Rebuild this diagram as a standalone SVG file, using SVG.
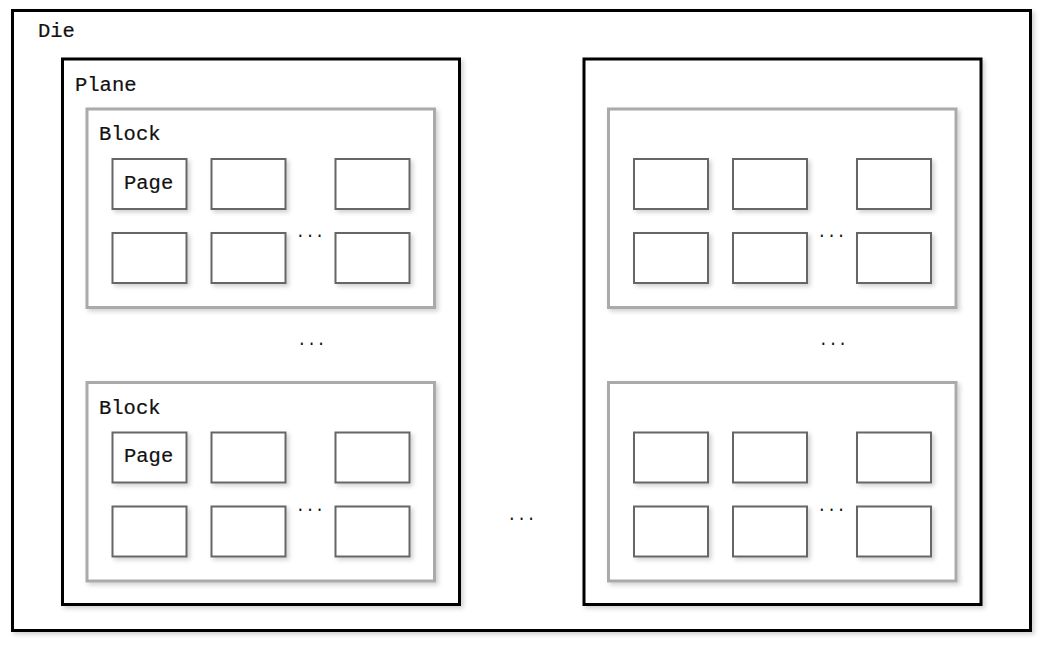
<svg xmlns="http://www.w3.org/2000/svg" xmlns:xlink="http://www.w3.org/1999/xlink" width="1052" height="654" viewBox="0 0 1052 654">
<defs>
<filter id="sh" x="-10%" y="-10%" width="130%" height="130%">
<feDropShadow dx="2.5" dy="2.5" stdDeviation="2" flood-color="#000" flood-opacity="0.18"/>
</filter>
<g id="blockPages">
<rect class="page" x="112.5" y="159" width="74" height="50"/>
<rect class="page" x="211.5" y="159" width="74" height="50"/>
<rect class="page" x="335.5" y="159" width="74" height="50"/>
<rect class="page" x="112.5" y="233" width="74" height="50"/>
<rect class="page" x="211.5" y="233" width="74" height="50"/>
<rect class="page" x="335.5" y="233" width="74" height="50"/>
<text class="dots" x="310" y="237">...</text>
</g>
</defs>
<style>
.die{fill:#fff;stroke:#000;stroke-width:3;filter:url(#sh)}
.plane{fill:#fff;stroke:#000;stroke-width:3;filter:url(#sh)}
.block{fill:#fff;stroke:#aaa;stroke-width:3;filter:url(#sh)}
.page{fill:#fff;stroke:#666;stroke-width:2;filter:url(#sh)}
.lbl{font-family:"Liberation Mono",monospace;font-size:20.5px;fill:#111;stroke:#111;stroke-width:0.2}
.dots{font-family:"Liberation Mono",monospace;font-size:16px;fill:#111;text-anchor:middle}
</style>
<g id="die">
<rect class="die" x="12.5" y="10.5" width="1018" height="620"/>
<text class="lbl" x="38" y="37">Die</text>
</g>
<g id="plane1">
<rect class="plane" x="62.5" y="59" width="397" height="545.5"/>
<text class="lbl" x="75" y="91">Plane</text>
</g>
<g id="plane2">
<rect class="plane" x="584" y="59" width="397" height="545.5"/>
</g>
<g id="block1">
<rect class="block" x="87" y="109" width="347.5" height="198.5"/>
<text class="lbl" x="99" y="140">Block</text>
<use xlink:href="#blockPages"/>
<text class="lbl" x="124" y="189">Page</text>
</g>
<g id="block2">
<rect class="block" x="87" y="382.5" width="347.5" height="198.5"/>
<text class="lbl" x="99" y="414">Block</text>
<use xlink:href="#blockPages" transform="translate(0,273.5)"/>
<text class="lbl" x="124" y="462">Page</text>
</g>
<g id="block3">
<rect class="block" x="608.5" y="109" width="347.5" height="198.5"/>
<use xlink:href="#blockPages" transform="translate(521.5,0)"/>
</g>
<g id="block4">
<rect class="block" x="608.5" y="382.5" width="347.5" height="198.5"/>
<use xlink:href="#blockPages" transform="translate(521.5,273.5)"/>
</g>
<g id="ellipses">
<text class="dots" x="311.5" y="345">...</text>
<text class="dots" x="833" y="345">...</text>
<text class="dots" x="521.5" y="520">...</text>
</g>
</svg>
